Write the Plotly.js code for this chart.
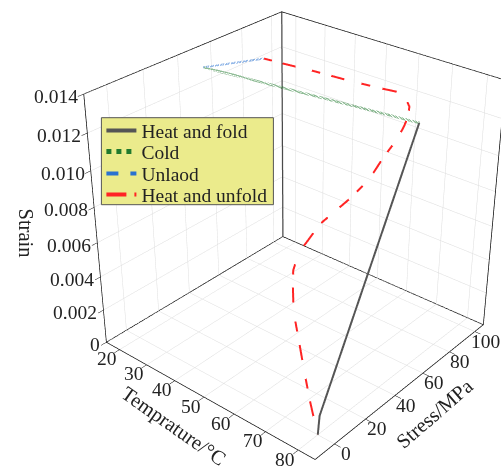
<!DOCTYPE html>
<html>
<head>
<meta charset="utf-8">
<script src="https://cdn.plot.ly/plotly-3.0.1.min.js"></script>
<style>
html,body{margin:0;padding:0;background:#fff;overflow:hidden;}
#wrap{position:relative;width:501px;height:466px;overflow:hidden;background:#fff;}
#chart{position:absolute;}
</style>
</head>
<body>
<div id="wrap"><div id="chart"></div></div>
<script>
// ---- data (Temperature °C, Stress MPa, Strain) ----
const heatFoldT = [80, 80, 80];
const heatFoldStress = [0, 1, 59.5];
const heatFoldStrain = [0, 0.00105, 0.0135];

const coldT = [80, 20];
const coldStress = [59.5, 46.6];
const coldStrain = [0.0135, 0.01337];

const unloadT = [20, 20];
const unloadStress = [46.6, 85];
const unloadStrain = [0.01337, 0.0124];

const unfoldT = [20, 25.8, 35.3, 45, 54.3, 59.4, 62.1, 64, 65.5, 66.5, 67.5, 68.5, 69.5, 70.2, 70.8, 71.3, 71.8, 72.1, 72.5, 72.4, 72.6, 74.0, 75.7, 77.5, 79.3, 80];
const unfoldStress = [85, 86.2, 88.6, 90.3, 92.7, 94.5, 92.7, 91.9, 87.6, 82.5, 75.5, 64.5, 52.4, 38.8, 27.7, 18.2, 8.7, 4.2, 0, 0, 0, 0, 0, 0, 0, 0];
const unfoldStrain = [0.0124, 0.0124, 0.0124, 0.0124, 0.0124, 0.0124, 0.0124, 0.0120, 0.01173, 0.01148, 0.01116, 0.0108, 0.0102, 0.00993, 0.00983, 0.00975, 0.00929, 0.00913, 0.00843, 0.00762, 0.00624, 0.00499, 0.00335, 0.00178, 0.00047, 0];

const seriesNames = ['Heat and fold', 'Cold', 'Unlaod', 'Heat and unfold'];

// axis ranges, ticks and titles
const tempRange = [15, 85];
const stressRange = [-12, 107];
const strainRange = [0, 0.014];
const tempTicks = [20, 30, 40, 50, 60, 70, 80];
const stressTicks = [0, 20, 40, 60, 80, 100];
const strainTicks = [0, 0.002, 0.004, 0.006, 0.008, 0.010, 0.012, 0.014];
const strainTickText = ['0', '0.002', '0.004', '0.006', '0.008', '0.010', '0.012', '0.014'];
const axisTitles = ['Temprature/°C', 'Stress/MPa', 'Strain'];

const FONT = 'Liberation Serif, Times New Roman, serif';

// ---- view (fitted to the reference box corners) ----
const view = {theta: 0.5165, alpha: 0.8663, eye: [2.463, -2.914, 2.204], focal: 1246.0, cx: 293.6, cy: 208.3, ay: 0.998, az: 1.003};
const E = [Math.cos(view.theta) * Math.cos(view.alpha), -Math.cos(view.theta) * Math.sin(view.alpha), Math.sin(view.theta)];
const P = view.eye;
const tAx = E[0] * P[0] + E[1] * P[1] + E[2] * P[2];
const C = [P[0] - tAx * E[0], P[1] - tAx * E[1], P[2] - tAx * E[2]];
const H = Math.round(2 * view.focal * Math.tan(Math.PI / 8));
const W = Math.round(H * 1.2);
const offL = view.cx - W / 2, offT = view.cy - H / 2;
document.getElementById('chart').style.left = offL + 'px';
document.getElementById('chart').style.top = offT + 'px';
function px(wx) { return (wx - offL) / W; }
function py(wy) { return 1 - (wy - offT) / H; }

function line3d(x, y, z, name, color, dash, width, lg) {
  return {type: 'scatter3d', mode: 'lines', x: x, y: y, z: z, name: name, legend: lg,
    line: {color: color, width: width, dash: dash}, hoverinfo: 'skip'};
}

// back vertical frame edge at (Tmin, Smax), nudged a hair toward the viewer so it is not hidden by the walls
const edgeEps = 0.003;
const edgeT = tempRange[0] + edgeEps * (tempRange[1] - tempRange[0]);
const edgeS = stressRange[1] - edgeEps * (stressRange[1] - stressRange[0]);

const traces = [
  {type: 'scatter3d', mode: 'lines', x: [edgeT, edgeT], y: [edgeS, edgeS],
   z: [strainRange[0], strainRange[1]], line: {color: '#4a4a4a', width: 2.5, dash: 'solid'}, showlegend: false, hoverinfo: 'skip'},
  line3d(heatFoldT, heatFoldStress, heatFoldStrain, seriesNames[0], '#555555', 'solid', 4, 'legend'),
  line3d(coldT, coldStress, coldStrain, seriesNames[1], '#217a2e', 'dot', 5, 'legend2'),
  line3d(unloadT, unloadStress, unloadStrain, seriesNames[2], '#2a72d0', 'dash', 4, 'legend3'),
  line3d(unfoldT, unfoldStress, unfoldStrain, seriesNames[3], '#ff2424', 'longdashdot', 4, 'legend4')
];

function axis(range, tickvals, zl) {
  return {
    title: {text: ''},
    range: range, autorange: false,
    tickmode: 'array', tickvals: tickvals, showticklabels: false,
    ticks: 'inside', ticklen: 6, tickcolor: '#000', tickwidth: 1,
    showgrid: true, gridcolor: '#dcdcdc', gridwidth: 1,
    showline: true, linecolor: '#000', linewidth: 1.5, mirror: true,
    zeroline: zl, zerolinecolor: '#000', zerolinewidth: 1.5,
    showbackground: false, showspikes: false
  };
}

// horizontal tick labels and axis titles, anchored on the axes
const tickFont = {family: FONT, size: 19.5, color: '#222'};
const titleFont = {family: FONT, size: 20.5, color: '#222'};
const ann = [];
tempTicks.forEach(t => ann.push({x: t, y: stressRange[0], z: strainRange[0], text: String(t), showarrow: false,
  xanchor: 'center', yanchor: 'middle', xshift: -13, yshift: -9, font: tickFont}));
stressTicks.forEach(s => ann.push({x: tempRange[1], y: s, z: strainRange[0], text: String(s), showarrow: false,
  xanchor: 'center', yanchor: 'middle', xshift: 11, yshift: -9.5, font: tickFont}));
strainTicks.forEach((s, i) => ann.push({x: tempRange[0], y: stressRange[0], z: s, text: strainTickText[i], showarrow: false,
  xanchor: 'right', yanchor: 'middle', xshift: -4, yshift: -2.5, font: tickFont}));
ann.push({x: 50, y: stressRange[0], z: strainRange[0], text: axisTitles[0], showarrow: false, textangle: 35,
  xanchor: 'center', yanchor: 'middle', xshift: -30, yshift: -29, font: titleFont});
ann.push({x: tempRange[1], y: 50, z: strainRange[0], text: axisTitles[1], showarrow: false, textangle: -41,
  xanchor: 'center', yanchor: 'middle', xshift: 25, yshift: -30, font: titleFont});
ann.push({x: tempRange[0], y: stressRange[0], z: 0.007, text: axisTitles[2], showarrow: false, textangle: 90,
  xanchor: 'center', yanchor: 'middle', xshift: -70, yshift: -8, font: titleFont});

const legendRows = [131, 152, 174, 195];
function legendAt(i) {
  return {x: px(101), y: py(legendRows[i]), xanchor: 'left', yanchor: 'middle',
    bgcolor: 'rgba(0,0,0,0)', borderwidth: 0, itemwidth: 30,
    font: {family: FONT, size: 19.5, color: '#222'}};
}

const layout = {
  width: W, height: H,
  margin: {l: 0, r: 0, t: 0, b: 0},
  paper_bgcolor: '#fff',
  font: {family: FONT, color: '#222'},
  showlegend: true,
  legend: legendAt(0), legend2: legendAt(1), legend3: legendAt(2), legend4: legendAt(3),
  shapes: [{type: 'rect', xref: 'paper', yref: 'paper', layer: 'above',
    x0: px(101), x1: px(273), y0: py(118), y1: py(205),
    fillcolor: '#ebeb8c', line: {color: '#555', width: 1}}],
  scene: {
    domain: {x: [0, 1], y: [0, 1]},
    xaxis: axis(tempRange, tempTicks, false),
    yaxis: axis(stressRange, stressTicks, false),
    zaxis: axis(strainRange, strainTicks, true),
    aspectmode: 'manual',
    aspectratio: {x: 1, y: view.ay, z: view.az},
    camera: {
      eye: {x: P[0], y: P[1], z: P[2]},
      center: {x: C[0], y: C[1], z: C[2]}, up: {x: 0, y: 0, z: 1},
      projection: {type: 'perspective'}
    },
    annotations: ann
  }
};

Plotly.newPlot('chart', traces, layout, {displayModeBar: false});
</script>
</body>
</html>
